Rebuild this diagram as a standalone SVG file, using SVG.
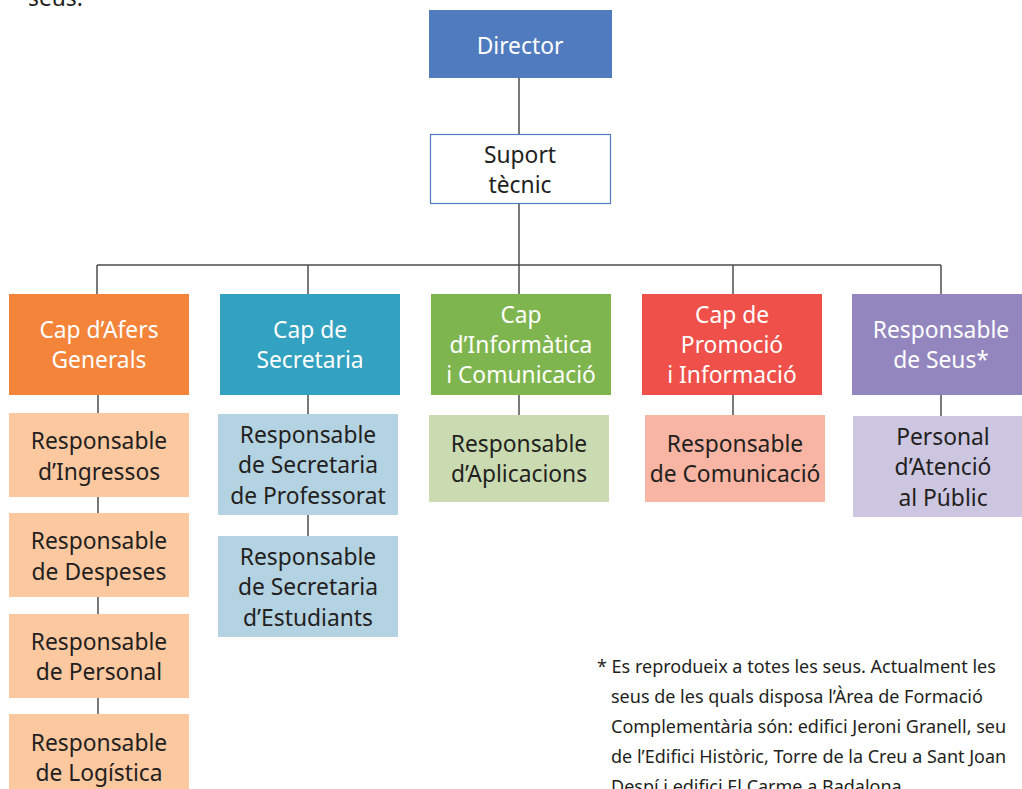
<svg xmlns="http://www.w3.org/2000/svg" width="1022" height="789" viewBox="0 0 1022 789">
<style>
text{font-family:"Noto Sans","Open Sans","Liberation Sans",sans-serif;font-size:22.8px;text-anchor:middle}
.w{fill:#ffffff}
.d{fill:#231f20}
.note{font-size:18px;text-anchor:start;fill:#231f20}
.ln{stroke:#4d4d4d;stroke-width:1.5;fill:none}
</style>
<rect width="1022" height="789" fill="#ffffff"/>
<text class="note" x="28" y="6" style="font-size:22.8px">seus.</text>
<g id="connectors">
<path class="ln" d="M519 78V134M519 204V265M97 265H941M97 265V294M308 265V294M519 265V294M733 265V294M941 265V294"/>
<path class="ln" d="M98 395V413M98 497V513M98 597V614M98 698V714"/>
<path class="ln" d="M308 395V414M308 515V536"/>
<path class="ln" d="M519 395V415M733 395V415M941 395V416"/>
</g>
<g id="director"><rect x="429" y="10" width="183" height="68" fill="#517bbf"/><text class="w" x="520" y="54">Director</text></g>
<g id="suport"><rect x="430.5" y="134.5" width="180" height="69" fill="#fff" stroke="#517bbf" stroke-width="1.2"/><text class="d" x="520" y="163">Suport</text><text class="d" x="520" y="193">tècnic</text></g>
<g id="afers"><rect x="9" y="294" width="180" height="101" fill="#f3843a"/><text class="w" x="99" y="338">Cap d’Afers</text><text class="w" x="99" y="368">Generals</text></g>
<g id="secretaria"><rect x="220" y="294" width="180" height="101" fill="#33a1c0"/><text class="w" x="310" y="338">Cap de</text><text class="w" x="310" y="368">Secretaria</text></g>
<g id="informatica"><rect x="431" y="294" width="180" height="101" fill="#7fb54f"/><text class="w" x="521" y="323">Cap</text><text class="w" x="521" y="353">d’Informàtica</text><text class="w" x="521" y="383">i Comunicació</text></g>
<g id="promocio"><rect x="642" y="294" width="180" height="101" fill="#ef514a"/><text class="w" x="732" y="323">Cap de</text><text class="w" x="732" y="353">Promoció</text><text class="w" x="732" y="383">i Informació</text></g>
<g id="seus"><rect x="852" y="294" width="170" height="101" fill="#9386bf"/><text class="w" x="941" y="338">Responsable</text><text class="w" x="941" y="368">de Seus*</text></g>
<g id="ingressos"><rect x="9" y="413" width="180" height="84" fill="#fcc8a0"/><text class="d" x="99" y="449">Responsable</text><text class="d" x="99" y="480">d’Ingressos</text></g>
<g id="despeses"><rect x="9" y="513" width="180" height="84" fill="#fcc8a0"/><text class="d" x="99" y="549">Responsable</text><text class="d" x="99" y="580">de Despeses</text></g>
<g id="personal"><rect x="9" y="614" width="180" height="84" fill="#fcc8a0"/><text class="d" x="99" y="650">Responsable</text><text class="d" x="99" y="680">de Personal</text></g>
<g id="logistica"><rect x="9" y="714" width="180" height="80" fill="#fcc8a0"/><text class="d" x="99" y="751">Responsable</text><text class="d" x="99" y="781">de Logística</text></g>
<g id="professorat"><rect x="218" y="414" width="180" height="101" fill="#b3d2e2"/><text class="d" x="308" y="443">Responsable</text><text class="d" x="308" y="473">de Secretaria</text><text class="d" x="308" y="504">de Professorat</text></g>
<g id="estudiants"><rect x="218" y="536" width="180" height="101" fill="#b3d2e2"/><text class="d" x="308" y="565">Responsable</text><text class="d" x="308" y="595">de Secretaria</text><text class="d" x="308" y="626">d’Estudiants</text></g>
<g id="aplicacions"><rect x="429" y="415" width="180" height="87" fill="#cadbb2"/><text class="d" x="519" y="452">Responsable</text><text class="d" x="519" y="482">d’Aplicacions</text></g>
<g id="comunicacio"><rect x="645" y="415" width="180" height="87" fill="#f9b5a4"/><text class="d" x="735" y="452">Responsable</text><text class="d" x="735" y="482">de Comunicació</text></g>
<g id="atencio"><rect x="853" y="416" width="169" height="101" fill="#cdc6e1"/><text class="d" x="943" y="445">Personal</text><text class="d" x="943" y="475">d’Atenció</text><text class="d" x="943" y="506">al Públic</text></g>
<g id="footnote">
<text class="note" x="597" y="673">* Es reprodueix a totes les seus. Actualment les</text>
<text class="note" x="611" y="703">seus de les quals disposa l’Àrea de Formació</text>
<text class="note" x="611" y="733">Complementària són: edifici Jeroni Granell, seu</text>
<text class="note" x="611" y="763">de l’Edifici Històric, Torre de la Creu a Sant Joan</text>
<text class="note" x="611" y="793">Despí i edifici El Carme a Badalona.</text>
</g>
</svg>
